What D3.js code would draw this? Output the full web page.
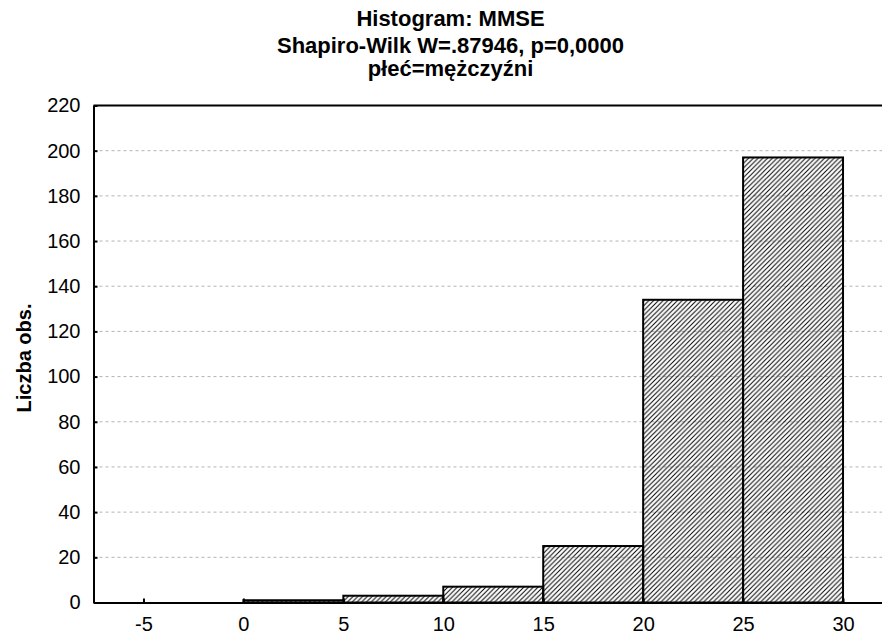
<!DOCTYPE html>
<html>
<head>
<meta charset="utf-8">
<script src="https://cdn.jsdelivr.net/npm/d3@7"></script>
<style>
body{margin:0;background:#fff;}
text{font-family:"Liberation Sans",Arial,sans-serif;}
</style>
</head>
<body>
<div id="root"></div>
<script>
// histogram bins (MMSE, men)
var binStart=[0,5,10,15,20,25];
var binEnd=[5,10,15,20,25,30];
var counts=[1,3,7,25,134,197];
var xTicks=[-5,0,5,10,15,20,25,30];
var yTicks=[0,20,40,60,80,100,120,140,160,180,200,220];
var titles=['Histogram: MMSE','Shapiro-Wilk W=.87946, p=0,0000','płeć=mężczyźni'];

var W=882,H=637;
var margin={t:105.5,r:0,b:34.5,l:93.5};
var w=W-margin.l-margin.r;
var h=H-margin.t-margin.b;

var svg=d3.select('#root').append('svg')
	.attr('width',W).attr('height',H);

var defs=svg.append('defs');
var pat=defs.append('pattern').attr('id','hatch')
	.attr('patternUnits','userSpaceOnUse')
	.attr('width',4.75).attr('height',4.75);
pat.append('path')
	.attr('d','M-1,1 l2,-2 M0,4.75 l4.75,-4.75 M3.75,5.75 l2,-2')
	.attr('stroke','#000').attr('stroke-width',1);

var g=svg.append('g').attr('transform','translate('+margin.l+','+margin.t+')');

var xScale=d3.scaleLinear().domain([-7.5,31.95]).range([0,w]);
var yScale=d3.scaleLinear().domain([0,220]).range([h,0]);

// grid
g.append('g').selectAll('line').data(yTicks.filter(function(d){return d>0&&d<220}))
	.enter().append('line')
	.attr('x1',0).attr('x2',w)
	.attr('y1',function(d){return yScale(d)}).attr('y2',function(d){return yScale(d)})
	.attr('stroke','#b4b4b4').attr('stroke-width',1).attr('stroke-dasharray','3,3');

// bars
g.append('g').selectAll('rect').data(counts).enter().append('rect')
	.attr('x',function(d,i){return xScale(binStart[i])})
	.attr('width',function(d,i){return xScale(binEnd[i])-xScale(binStart[i])})
	.attr('y',function(d){return yScale(d)})
	.attr('height',function(d){return yScale(0)-yScale(d)})
	.attr('fill','url(#hatch)').attr('stroke','#000').attr('stroke-width',2);

// axes
var xAxis=d3.axisBottom(xScale).tickValues(xTicks).tickFormat(function(d){return String(d)})
	.tickSizeInner(-4).tickSizeOuter(0).tickPadding(14);
var yAxis=d3.axisLeft(yScale).tickValues(yTicks).tickFormat(function(d){return String(d)})
	.tickSizeInner(-4).tickSizeOuter(0).tickPadding(13);

var xg=g.append('g').attr('transform','translate(0,'+h+')').call(xAxis);
var yg=g.append('g').call(yAxis);
[xg,yg].forEach(function(a){
	a.select('.domain').attr('stroke','#000').attr('stroke-width',2);
	a.selectAll('.tick line').attr('stroke','#000').attr('stroke-width',2);
	a.selectAll('.tick text').attr('fill','#000').style('font-size','20px')
		.style('font-family','"Liberation Sans",Arial,sans-serif');
});
xg.selectAll('.tick text').attr('dy','0.71em');

// top border
g.append('line').attr('x1',0).attr('x2',w).attr('y1',0).attr('y2',0)
	.attr('stroke','#000').attr('stroke-width',2);

// titles
svg.append('g').selectAll('text').data(titles).enter().append('text')
	.attr('x',450.5).attr('y',function(d,i){return [26,53,76][i]})
	.attr('text-anchor','middle').style('font-weight','bold').style('font-size','22px')
	.text(function(d){return d});

svg.append('text')
	.attr('transform','translate(31,'+(margin.t+h/2+4)+') rotate(-90)')
	.attr('text-anchor','middle').style('font-weight','bold').style('font-size','20px')
	.text('Liczba obs.');
</script>
</body>
</html>
